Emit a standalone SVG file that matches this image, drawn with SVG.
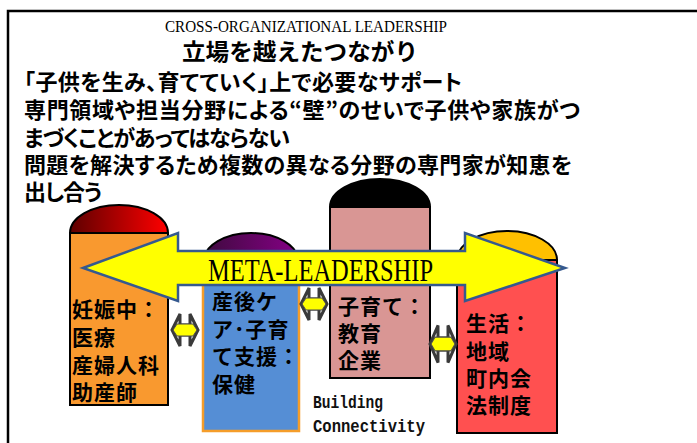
<svg xmlns="http://www.w3.org/2000/svg" width="697" height="443" viewBox="0 0 697 443">
  <style>
    .jp { font-family: "Noto Sans CJK JP", "Noto Sans", sans-serif; font-weight: bold; fill: #000; }
    .body { font-size: 22px; font-feature-settings: "palt"; }
    .pl { font-size: 21px; letter-spacing: 1px; }
    .ser { font-family: "Liberation Serif", "DejaVu Serif", serif; fill: #000; }
    .mono { font-family: "Liberation Mono", "DejaVu Sans Mono", monospace; font-size: 18px; font-weight: bold; fill: #111; }
    .pillar { stroke: #000; stroke-width: 2; }
    .conn-out { fill: #fff; stroke: #3a3a3a; stroke-width: 3; stroke-linejoin: miter; }
    .conn-in { fill: #FFFF00; stroke: #4a4a4a; stroke-width: 1; }
  </style>
  <defs>
    <linearGradient id="gRed" x1="0" y1="0" x2="1" y2="0">
      <stop offset="0" stop-color="#5E0000"/>
      <stop offset="1" stop-color="#FF0000"/>
    </linearGradient>
    <linearGradient id="gPurple" x1="0" y1="0" x2="1" y2="0">
      <stop offset="0" stop-color="#3F0A3F"/>
      <stop offset="1" stop-color="#850085"/>
    </linearGradient>
    <g id="dbl">
      <path class="conn-out" d="M -13,0 L -5,-16 L -5,-5 L 5,-5 L 5,-16 L 13,0 L 5,16 L 5,5 L -5,5 L -5,16 Z"/>
      <path class="conn-in" d="M -12,0 L -8,-6 L 8,-6 L 12,0 L 8,6 L -8,6 Z"/>
    </g>
  </defs>

  <rect width="697" height="443" fill="#fff"/>
  <path d="M 8,450 L 8,11 L 705,11" fill="none" stroke="#000" stroke-width="2.5"/>

  <g id="title">
    <text class="ser" x="165" y="32" font-size="16" textLength="282" lengthAdjust="spacingAndGlyphs">CROSS-ORGANIZATIONAL LEADERSHIP</text>
    <text class="jp" x="182" y="60" font-size="23" textLength="236" lengthAdjust="spacingAndGlyphs">立場を越えたつながり</text>
  </g>

  <g id="body-text">
    <text class="jp body" x="24" y="90" textLength="438" lengthAdjust="spacing">「子供を生み、育てていく」上で必要なサポート</text>
    <text class="jp body" x="24" y="118" textLength="556" lengthAdjust="spacing">専門領域や担当分野による“壁”のせいで子供や家族がつ</text>
    <text class="jp body" x="24" y="146" textLength="266" lengthAdjust="spacing">まづくことがあってはならない</text>
    <text class="jp body" x="24" y="173" textLength="548" lengthAdjust="spacing">問題を解決するため複数の異なる分野の専門家が知恵を</text>
    <text class="jp body" x="24" y="200" textLength="78" lengthAdjust="spacing">出し合う</text>
  </g>

  <g id="pillar-pregnancy">
    <path class="pillar" d="M 70,233 A 49,28 0 0 1 168,233 Z" fill="url(#gRed)"/>
    <rect class="pillar" x="70" y="233" width="98" height="172" fill="#F9992F"/>
    <text class="jp pl" x="72" y="317">妊娠中：</text>
    <text class="jp pl" x="72" y="345">医療</text>
    <text class="jp pl" x="72" y="373">産婦人科</text>
    <text class="jp pl" x="72" y="400">助産師</text>
  </g>

  <g id="pillar-postnatal">
    <path class="pillar" d="M 204,261 A 47,28 0 0 1 298,261 Z" fill="url(#gPurple)"/>
    <rect x="203" y="261" width="96" height="170" fill="#558ED5" stroke="#F59D2A" stroke-width="2.5"/>
    <text class="jp pl" x="212" y="309">産後ケ</text>
    <text class="jp pl" x="212" y="337">ア･子育</text>
    <text class="jp pl" x="212" y="364">て支援：</text>
    <text class="jp pl" x="212" y="392">保健</text>
  </g>

  <g id="pillar-childrearing">
    <path class="pillar" d="M 330,207 A 50,28 0 0 1 430,207 Z" fill="#000"/>
    <rect class="pillar" x="330" y="207" width="100" height="171" fill="#D99694"/>
    <text class="jp pl" x="338" y="314">子育て：</text>
    <text class="jp pl" x="338" y="341">教育</text>
    <text class="jp pl" x="338" y="368">企業</text>
  </g>

  <g id="pillar-life">
    <path class="pillar" d="M 457,260 A 50,29 0 0 1 557,260 Z" fill="#FFC000"/>
    <rect class="pillar" x="457" y="260" width="100" height="173" fill="#FF5050"/>
    <text class="jp pl" x="466" y="331">生活：</text>
    <text class="jp pl" x="466" y="359">地域</text>
    <text class="jp pl" x="466" y="386">町内会</text>
    <text class="jp pl" x="466" y="413">法制度</text>
  </g>

  <g id="meta-leadership">
    <path d="M 83,268 L 178,233 L 178,251 L 465,251 L 465,233 L 565,268 L 465,301 L 465,285 L 178,285 L 178,301 Z" fill="#FFFF00" stroke="#35598F" stroke-width="2.5" stroke-linejoin="miter"/>
    <text class="ser" x="208" y="281" font-size="31" textLength="225" lengthAdjust="spacingAndGlyphs">META-LEADERSHIP</text>
  </g>

  <g id="connectors">
    <use href="#dbl" transform="translate(185,330)"/>
    <use href="#dbl" transform="translate(314,304)"/>
    <use href="#dbl" transform="translate(443,344) scale(1,1.15)"/>
  </g>

  <g id="building-label">
    <text class="mono" x="313" y="408" textLength="70" lengthAdjust="spacingAndGlyphs">Building</text>
    <text class="mono" x="313" y="432" textLength="112" lengthAdjust="spacingAndGlyphs">Connectivity</text>
  </g>
</svg>
